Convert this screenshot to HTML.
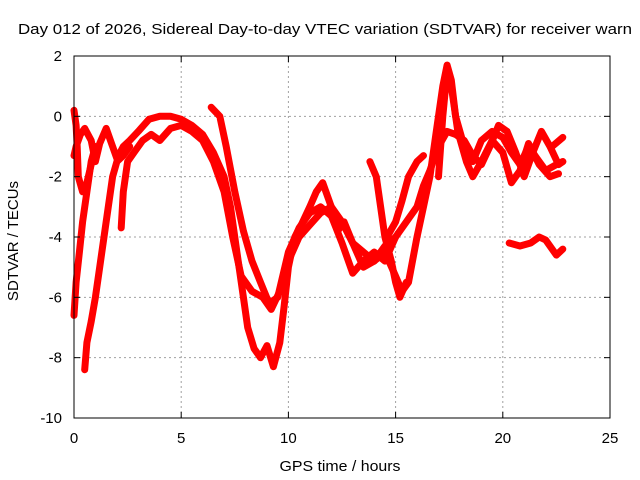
<!DOCTYPE html>
<html><head><meta charset="utf-8"><style>
body{margin:0;background:#fff;}
svg{display:block;font-family:"Liberation Sans",sans-serif;}
</style></head><body>
<svg id="chart" width="640" height="480">
<rect width="640" height="480" fill="#fff"/>
<text x="18" y="34" font-size="15" textLength="614" lengthAdjust="spacingAndGlyphs" fill="#000">Day 012 of 2026, Sidereal Day-to-day VTEC variation (SDTVAR) for receiver warn</text>
<g id="grid"></g>
<g id="series"></g>
<rect x="74" y="56" width="536" height="362" fill="none" stroke="#000" stroke-width="1"/>
<g id="ticks"></g>
<text x="340" y="471" font-size="15" textLength="121" lengthAdjust="spacingAndGlyphs" text-anchor="middle">GPS time / hours</text>
<text x="0" y="0" font-size="15" textLength="120" lengthAdjust="spacingAndGlyphs" text-anchor="middle" transform="translate(18,241) rotate(-90)">SDTVAR / TECUs</text>
</svg>
<script>
const xTicks=[0,5,10,15,20,25];
const yTicks=[2,0,-2,-4,-6,-8,-10];
const trackA=[[0,-1.3],[0.1,-1.0],[0.3,-0.6],[0.5,-0.4],[0.8,-0.8],[1.0,-1.5],[1.2,-0.9],[1.5,-0.4],[1.8,-1.0],[2.0,-1.4],[2.3,-1.0],[2.6,-0.8],[3.0,-0.5],[3.5,-0.1],[4.0,0.0],[4.5,0.0],[5.0,-0.1],[5.5,-0.3],[6.0,-0.6],[6.5,-1.2],[7.0,-2.0],[7.3,-3.0],[7.6,-4.5],[7.9,-6.0],[8.1,-7.0],[8.4,-7.7],[8.7,-8.0],[9.0,-7.6],[9.3,-8.3],[9.6,-7.5],[9.8,-6.3],[10.0,-5.0],[10.3,-4.0],[10.6,-3.6],[11.0,-3.0],[11.3,-2.5],[11.6,-2.2],[12.0,-3.0],[12.3,-3.8],[12.6,-3.5],[13.0,-4.2],[13.5,-5.0],[14.0,-4.8],[14.5,-4.5],[15.0,-5.3],[15.3,-5.8],[15.6,-5.5],[16.0,-4.0],[16.3,-3.0],[16.6,-2.0],[16.9,-0.5],[17.2,1.0],[17.4,1.7],[17.6,1.2],[17.8,0.0],[18.2,-1.0],[18.6,-1.5],[19.0,-0.8],[19.5,-0.5],[20.0,-0.7],[20.4,-1.2],[20.8,-1.6],[21.2,-1.0],[21.6,-1.4],[22.0,-1.8],[22.5,-1.6],[22.8,-1.5]];
const trackB=[[0.0,0.2],[0.1,-0.3],[0.15,-1.0],[0.2,-2.0],[0.4,-2.5],[0.6,-2.2],[0.8,-1.6]];
const trackC=[[0.0,-6.6],[0.1,-5.5],[0.25,-4.5],[0.4,-3.5],[0.6,-2.5],[0.8,-1.5],[1.0,-1.0]];
const trackD=[[0.5,-8.4],[0.6,-7.5],[0.8,-6.8],[1.0,-6.0],[1.2,-5.0],[1.4,-4.0],[1.6,-3.0],[1.8,-2.0],[2.0,-1.5],[2.3,-1.3],[2.6,-1.0]];
const trackE=[[2.2,-3.7],[2.3,-2.5],[2.5,-1.5],[2.8,-1.2],[3.2,-0.8],[3.6,-0.6],[4.0,-0.8],[4.5,-0.4],[5.0,-0.3],[5.5,-0.5],[6.0,-0.8],[6.5,-1.5],[7.0,-2.5],[7.4,-4.0],[7.8,-5.3],[8.3,-5.8],[8.8,-6.0],[9.2,-6.4],[9.6,-5.8],[10.0,-4.8],[10.5,-4.0],[11.0,-3.6],[11.5,-3.2],[12.0,-3.0],[12.5,-3.5],[13.0,-4.2],[13.5,-4.5],[14.0,-4.8],[14.5,-4.3],[15.0,-4.0]];
const trackF=[[14.6,-4.0],[15.0,-3.5],[15.3,-2.8],[15.6,-2.0],[16.0,-1.5],[16.3,-1.3]];
const trackG=[[6.4,0.3],[6.8,0.0],[7.1,-1.0],[7.5,-2.5],[7.9,-3.8],[8.3,-4.8],[8.7,-5.5],[9.1,-6.2],[9.5,-6.0],[10.0,-4.5],[10.5,-3.7],[11.0,-3.2],[11.5,-3.0],[12.0,-3.3],[12.5,-4.2],[13.0,-5.2],[13.5,-4.8],[14.0,-4.5],[14.5,-4.8],[15.0,-4.0],[15.5,-3.5],[16.0,-3.0],[16.3,-2.3],[16.6,-1.8],[17.0,-1.0],[17.4,-0.5],[17.8,-0.6],[18.2,-0.8],[18.6,-1.3],[19.0,-1.6],[19.4,-1.0],[19.8,-0.3],[20.2,-0.5],[20.6,-1.2],[21.0,-2.0],[21.4,-1.2],[21.8,-0.5],[22.2,-1.0],[22.6,-1.6],[22.8,-1.5]];
const trackH=[[17.0,-2.0],[17.2,0.0],[17.4,1.5],[17.6,1.0],[17.9,-0.5],[18.3,-1.5],[18.6,-2.0],[19.0,-1.5],[19.5,-0.8],[20.0,-1.2],[20.4,-2.2],[20.8,-1.8],[21.2,-0.9],[21.7,-1.6],[22.2,-2.0],[22.6,-1.9]];
const trackI=[[20.3,-4.2],[20.8,-4.3],[21.3,-4.2],[21.7,-4.0],[22.0,-4.1],[22.5,-4.6],[22.8,-4.4]];
const trackJ=[[22.3,-1.0],[22.8,-0.7]];
const trackK=[[13.8,-1.5],[14.1,-2.0],[14.3,-3.0],[14.5,-4.0],[14.8,-4.8],[15.0,-5.5],[15.2,-6.0],[15.5,-5.5]];
const tracks=[trackA,trackB,trackC,trackD,trackE,trackF,trackG,trackH,trackI,trackJ,trackK];

const NS='http://www.w3.org/2000/svg';
const X0=74,X1=610,Y0=56,Y1=418,xmin=0,xmax=25,ymin=-10,ymax=2;
function sx(v){return X0+(v-xmin)/(xmax-xmin)*(X1-X0);}
function sy(v){return Y1-(v-ymin)/(ymax-ymin)*(Y1-Y0);}
const grid=document.getElementById('grid'),ticks=document.getElementById('ticks'),ser=document.getElementById('series');
function mk(tag,attrs,parent){const e=document.createElementNS(NS,tag);for(const k in attrs)e.setAttribute(k,attrs[k]);parent.appendChild(e);return e;}
xTicks.forEach(t=>{
  const x=sx(t);
  if(t>xmin&&t<xmax){const g=mk('line',{x1:x,x2:x,y1:Y0,y2:Y1,stroke:'#a0a0a0','stroke-dasharray':'2,3'},grid);
    
    }
  const l=mk('line',{x1:x,x2:x,y1:Y1,y2:Y1-6,stroke:'#000'},ticks);
  
  
  const l2=mk('line',{x1:x,x2:x,y1:Y0,y2:Y0+6,stroke:'#000'},ticks);
  
  
  const tx=mk('text',{x:x,y:443,'font-size':15,'text-anchor':'middle'},ticks);tx.textContent=t;
  
  
});
yTicks.forEach(t=>{
  const y=sy(t);
  if(t>ymin&&t<ymax){const g=mk('line',{x1:X0,x2:X1,y1:y,y2:y,stroke:'#a0a0a0','stroke-dasharray':'2,3'},grid);
    
    }
  const l=mk('line',{x1:X0,x2:X0+6,y1:y,y2:y,stroke:'#000'},ticks);
  
  
  const l2=mk('line',{x1:X1,x2:X1-6,y1:y,y2:y,stroke:'#000'},ticks);
  
  
  const tx=mk('text',{x:62,y:y+5,'font-size':15,'text-anchor':'end'},ticks);tx.textContent=t;
  
  
});
tracks.forEach((tr,i)=>{
  const d=tr.map((p,j)=>(j?'L':'M')+sx(p[0]).toFixed(1)+','+sy(p[1]).toFixed(1)).join(' ');
  const p=mk('path',{d:d,fill:'none',stroke:'#ff0000','stroke-width':7,'stroke-linejoin':'round','stroke-linecap':'round'},ser);
  
  
});
</script>
</body></html>
